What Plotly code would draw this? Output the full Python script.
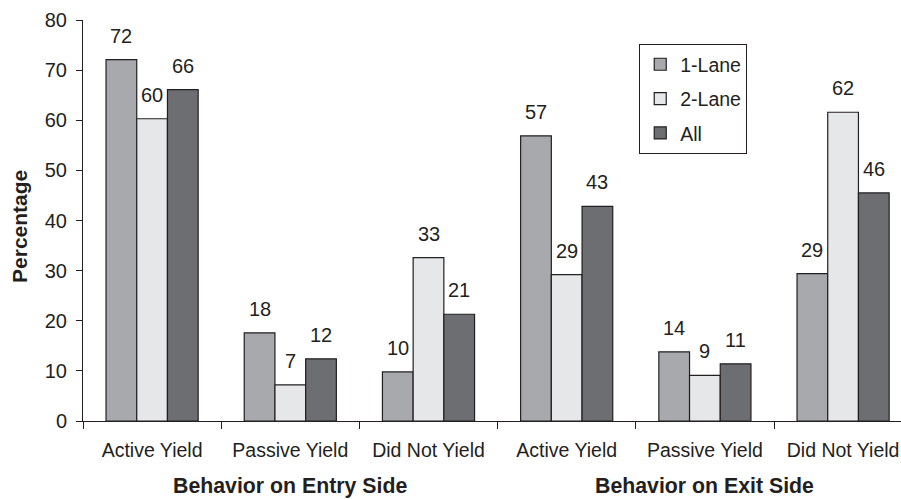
import plotly.graph_objects as go

categories = ["Active Yield", "Passive Yield", "Did Not Yield",
              "Active Yield", "Passive Yield", "Did Not Yield"]
category_keys = ["entry_active", "entry_passive", "entry_none",
                 "exit_active", "exit_passive", "exit_none"]
side_titles = ["Behavior on Entry Side", "Behavior on Exit Side"]
series_names = ["1-Lane", "2-Lane", "All"]
one_lane = [72.1, 17.6, 9.8, 56.9, 13.8, 29.4]
two_lane = [60.3, 7.2, 32.6, 29.2, 9.1, 61.6]
all_lanes = [66.1, 12.4, 21.3, 42.8, 11.4, 45.5]
y_ticks = [0, 10, 20, 30, 40, 50, 60, 70, 80]

colors = ["#a7a9ac", "#e6e7e8", "#6d6e71"]
ink = "#231f20"
FONT = "Liberation Sans, Arial, sans-serif"

series = [one_lane, two_lane, all_lanes]
fig = go.Figure()
for j, (name, vals) in enumerate(zip(series_names, series)):
    fig.add_trace(go.Bar(
        x=category_keys, y=vals, name=name, legendgroup=name,
        marker=dict(color=colors[j], line=dict(color=ink, width=1.2)),
        hoverinfo="skip",
    ))

bargap = 1 / 3
bar_w = (1 - bargap) / 3
annotations = []
for j, vals in enumerate(series):
    for i, v in enumerate(vals):
        annotations.append(dict(
            x=i + (j - 1) * bar_w, y=v, xref="x", yref="y",
            text=f"{v:.0f}", showarrow=False, yanchor="bottom",
            yshift=11, font=dict(size=20, color=ink, family=FONT),
        ))
for k, t in enumerate(side_titles):
    annotations.append(dict(
        x=1 + 3 * k, y=-0.162, xref="x", yref="paper", text=f"<b>{t}</b>",
        showarrow=False, yanchor="middle",
        font=dict(size=21.3, color=ink, family=FONT),
    ))
annotations.append(dict(
    x=-0.077, y=0.484, xref="paper", yref="paper", text="<b>Percentage</b>",
    textangle=-90, showarrow=False, xanchor="center", yanchor="middle",
    font=dict(size=21, color=ink, family=FONT),
))

fig.update_layout(
    width=901, height=499,
    margin=dict(l=83, r=0, t=20, b=78),
    paper_bgcolor="white", plot_bgcolor="white",
    barmode="group", bargap=bargap, bargroupgap=0,
    font=dict(family=FONT, color=ink, size=19.5),
    showlegend=True,
    legend=dict(
        x=0.68, y=0.94, xanchor="left", yanchor="top",
        bordercolor=ink, borderwidth=1, bgcolor="white",
        font=dict(size=19.5, color=ink, family=FONT),
        tracegroupgap=6, traceorder="grouped",
    ),
    annotations=annotations,
)
fig.update_xaxes(
    type="category", range=[-0.5, 5.419],
    tickmode="array", tickvals=category_keys, ticktext=categories,
    tickson="boundaries", ticks="outside", ticklen=7, tickcolor=ink,
    showline=True, linecolor=ink, linewidth=1, showgrid=False,
    tickfont=dict(size=19.5, color=ink, family=FONT),
    ticklabelstandoff=12,
)
fig.update_yaxes(
    range=[0, 80], tickmode="array", tickvals=y_ticks,
    ticks="outside", ticklen=6, tickcolor=ink,
    showline=True, linecolor=ink, linewidth=1, showgrid=False, zeroline=False,
    tickfont=dict(size=20, color=ink, family=FONT),
    ticklabelstandoff=5,
)

fig.write_html(
    "out.html",
    config={"displayModeBar": False},
    post_script="document.body.style.margin='0';document.body.style.overflow='hidden';",
)
